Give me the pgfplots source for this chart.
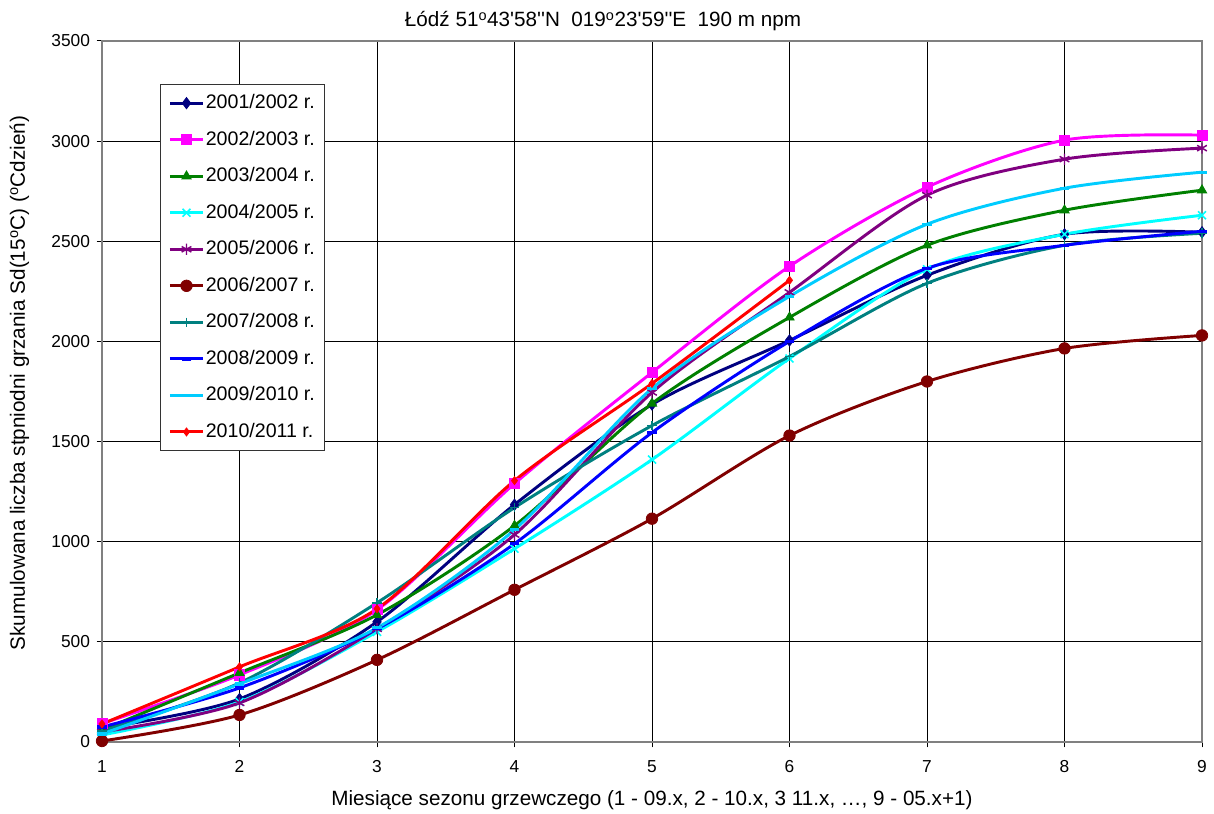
\documentclass[border=0pt]{standalone}
\usepackage{fontspec}
\setmainfont{Liberation Sans}
\newfontfamily\arialnl{Liberation Sans}
\usepackage{pgfplots}
\pgfplotsset{compat=1.18}

\definecolor{cNavy}{RGB}{0,0,128}
\definecolor{cMag}{RGB}{255,0,255}
\definecolor{cGreen}{RGB}{0,128,0}
\definecolor{cCyan}{RGB}{0,255,255}
\definecolor{cPurple}{RGB}{128,0,128}
\definecolor{cDRed}{RGB}{128,0,0}
\definecolor{cTeal}{RGB}{0,128,128}
\definecolor{cBlue}{RGB}{0,0,255}
\definecolor{cSky}{RGB}{0,204,255}
\definecolor{cRed}{RGB}{255,0,0}

\begin{document}
\begin{tikzpicture}
\begin{axis}[
  scale only axis, width=825pt, height=525.75pt,
  xmin=1, xmax=9, ymin=0, ymax=3500,
  xtick={1,...,9}, ytick={0,500,...,3500},
  xtick pos=bottom, ytick pos=left,
  tick align=outside, major tick length=4pt,
  tick style={black, line width=0.75pt},
  grid=major, major grid style={black, line width=0.6pt},
  axis line style={draw=gray, line width=1.3pt},
  clip=false,
  /pgf/number format/assume math mode=true,
  /pgf/number format/1000 sep={},
  ticklabel style={font=\fontsize{13}{15}\selectfont},
  yticklabel style={xshift=-1.5pt},
  xticklabel style={yshift=-6.5pt},
  every axis title shift=0pt,
  title={\arialnl Łódź 51\textsuperscript{o}43'58''N\ \ 019\textsuperscript{o}23'59''E\ \ 190 m npm},
  title style={font=\fontsize{15.5}{18}\selectfont, at={(axis description cs:0.4555,1.02)}, anchor=base},
  xlabel={Miesiące sezonu grzewczego (1 - 09.x, 2 - 10.x, 3 11.x, …, 9 - 05.x+1)},
  xlabel style={font=\fontsize{15.5}{18}\selectfont, at={(axis description cs:0.5,0)}, anchor=base, yshift=-47.25pt},
  ylabel={Skumulowana liczba stpniodni grzania Sd(15\textsuperscript{o}C) (\textsuperscript{o}Cdzień)},
  ylabel style={font=\fontsize{15.5}{18}\selectfont, at={(axis description cs:-0.07,0.512)}, anchor=base},
  legend style={at={(axis description cs:0.0527,0.9387)}, anchor=north west,
    draw=black!80, line width=0.8pt, fill=white,
    font=\fontsize{14.7}{17}\selectfont,
    row sep=11.4pt, inner xsep=6pt, inner ysep=6pt,
    nodes={inner sep=1pt, text height=11pt, text depth=3pt}},
  legend cell align=left,
  legend image code/.code={\draw[mark repeat=2, mark phase=2] plot coordinates {(0pt,0pt) (12.4pt,0pt) (24.8pt,0pt)};},
  every axis plot/.append style={line width=2.2pt, smooth},
]
\addplot[color=cNavy, mark=diamond*, mark size=4.2pt, mark options={line width=0.6pt}] coordinates {
 (1,70) (2,215) (3,600) (4,1185) (5,1685) (6,2005) (7,2330) (8,2535) (9,2545)};
\addlegendentry{2001/2002 r.}
\addplot[color=cMag, mark=square*, mark size=3.8pt, mark options={line width=0.6pt}] coordinates {
 (1,92) (2,335) (3,660) (4,1290) (5,1845) (6,2375) (7,2770) (8,3005) (9,3030)};
\addlegendentry{2002/2003 r.}
\addplot[color=cGreen, mark=triangle*, mark size=4pt, mark options={line width=0.6pt}] coordinates {
 (1,60) (2,345) (3,635) (4,1080) (5,1690) (6,2120) (7,2480) (8,2655) (9,2755)};
\addlegendentry{2003/2004 r.}
\addplot[color=cCyan, mark=x, mark size=4.2pt, mark options={line width=1.2pt}] coordinates {
 (1,35) (2,200) (3,550) (4,965) (5,1410) (6,1915) (7,2360) (8,2535) (9,2630)};
\addlegendentry{2004/2005 r.}
\addplot[color=cPurple, mark=asterisk, mark size=4.2pt, mark options={line width=1.1pt}] coordinates {
 (1,50) (2,195) (3,565) (4,1035) (5,1745) (6,2245) (7,2730) (8,2910) (9,2965)};
\addlegendentry{2005/2006 r.}
\addplot[color=cDRed, mark=*, mark size=4.3pt, mark options={line width=0.6pt}] coordinates {
 (1,5) (2,135) (3,410) (4,760) (5,1115) (6,1530) (7,1800) (8,1965) (9,2030)};
\addlegendentry{2006/2007 r.}
\addplot[color=cTeal, mark=+, mark size=3.6pt, mark options={line width=1.1pt}] coordinates {
 (1,55) (2,295) (3,695) (4,1170) (5,1580) (6,1925) (7,2290) (8,2480) (9,2540)};
\addlegendentry{2007/2008 r.}
\addplot[color=cBlue, mark=-, mark size=3.6pt, mark options={line width=2.4pt}] coordinates {
 (1,75) (2,270) (3,565) (4,990) (5,1545) (6,2000) (7,2365) (8,2480) (9,2550)};
\addlegendentry{2008/2009 r.}
\addplot[color=cSky, mark=-, mark size=3.6pt, mark options={line width=2.4pt}] coordinates {
 (1,40) (2,290) (3,570) (4,1060) (5,1765) (6,2225) (7,2585) (8,2765) (9,2845)};
\addlegendentry{2009/2010 r.}
\addplot[color=cRed, mark=diamond*, mark size=3pt, mark options={line width=0.6pt}] coordinates {
 (1,90) (2,375) (3,665) (4,1305) (5,1790) (6,2305)};
\addlegendentry{2010/2011 r.}
\end{axis}
\pgfresetboundingbox
\path ([shift={(-76.5pt,-54pt)}]current axis.south west) rectangle ([shift={(9pt,30.75pt)}]current axis.north east);
\end{tikzpicture}
\end{document}
